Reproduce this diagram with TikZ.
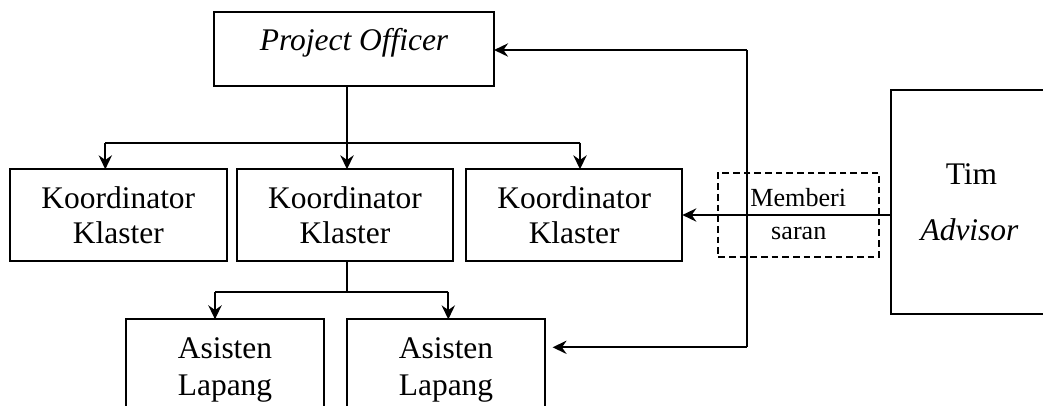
\documentclass[tikz,border=0pt]{standalone}
\usepackage{fontspec}
\setmainfont{Liberation Serif}
\usetikzlibrary{arrows.meta,calc}
\tikzset{
  boxst/.style={draw, line width=1.4pt, rectangle, inner sep=0pt, outer sep=0pt},
  dashbox/.style={draw, line width=1.4pt, dash pattern=on 5pt off 3pt, rectangle, inner sep=0pt, outer sep=0pt},
  lbl/.style={anchor=base, inner sep=0pt, font=\rmfamily\fontsize{23.6}{27}\selectfont},
  slbl/.style={anchor=base, inner sep=0pt, font=\rmfamily\fontsize{19.6}{23}\selectfont},
  arr/.style={line width=1.4pt, -{Stealth[length=10.5pt, width=10pt, inset=3.5pt]}},
  ln/.style={line width=1.4pt},
}
\newcommand\mybox[6][boxst]{\node[#1, minimum width=#5*0.75pt, minimum height=#6*0.75pt] (#2) at (#3,#4) {};}
\begin{document}
\begin{tikzpicture}[x=0.75pt, y=-0.75pt]
\useasboundingbox (0,0) rectangle (1043,405);
\clip (0,0) rectangle (1043,405);
% boxes
\mybox{po}{354.2}{48.9}{279.7}{74.3}
\mybox{k1}{118.3}{215}{216.7}{91.4}
\mybox{k2}{345}{215}{215.4}{91.4}
\mybox{k3}{574.2}{215}{216.3}{91.4}
\mybox{a1}{225}{369.7}{198}{100.7}
\mybox{a2}{446}{369.7}{198}{100.7}
\mybox{tim}{975.4}{202}{169.3}{224}
\mybox[dashbox]{ms}{798.7}{214.7}{160.7}{84}
% labels
\node[lbl] (tpo) at (354,50) {\itshape Project Officer};
\node[lbl] (tk1a) at (118.3,208) {Koordinator};
\node[lbl] (tk1b) at (118.3,243) {Klaster};
\node[lbl] (tk2a) at (345,208) {Koordinator};
\node[lbl] (tk2b) at (345,243) {Klaster};
\node[lbl] (tk3a) at (574.2,208) {Koordinator};
\node[lbl] (tk3b) at (574.2,243) {Klaster};
\node[lbl] (ta1a) at (225,358) {Asisten};
\node[lbl] (ta1b) at (225,395) {Lapang};
\node[lbl] (ta2a) at (446,358) {Asisten};
\node[lbl] (ta2b) at (446,395) {Lapang};
\node[lbl] (ttim) at (971.5,184) {Tim};
\node[lbl] (tadv) at (969.5,240) {\itshape Advisor};
\node[slbl] (tms1) at (798.3,206.7) {Memberi};
\node[slbl] (tms2) at (798.8,239) {saran};
% junction coordinates
\coordinate (j1) at (347,142.7);
\coordinate (bl) at (105.3,142.7);
\coordinate (br) at (580,142.7);
\coordinate (j2) at (346.7,291.7);
\coordinate (cl) at (215,291.7);
\coordinate (cr) at (448.3,291.7);
\coordinate (fb1) at (746.7,50);
\coordinate (fb2) at (746.7,347.3);
% connectors
\draw[arr] (po.south -| j1) -- (k2.north -| j1);
\draw[ln] (bl) -- (br);
\draw[arr] (bl) -- (k1.north -| bl);
\draw[arr] (br) -- (k3.north -| br);
\draw[ln] (k2.south -| j2) -- (j2);
\draw[ln] (cl) -- (cr);
\draw[arr] (cl) -- (a1.north -| cl);
\draw[arr] (cr) -- (a2.north -| cr);
\draw[ln] (fb1) -- (fb2);
\draw[arr] (fb1) -- (po.east |- fb1);
\draw[arr, shorten >=5.7pt] (fb2) -- (a2.east |- fb2);
\draw[arr] (tim.west |- k3.east) -- (k3.east);
\end{tikzpicture}
\end{document}
